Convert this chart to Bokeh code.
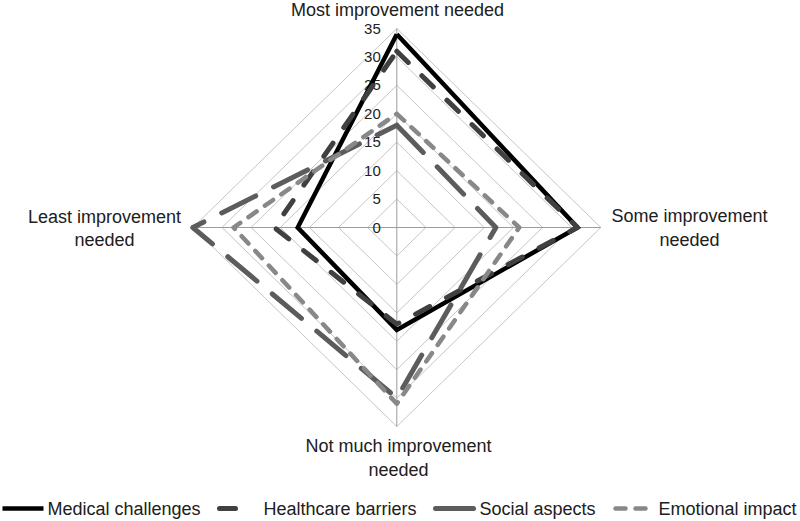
from bokeh.plotting import figure
from bokeh.models import Range1d
from bokeh.embed import file_html
from bokeh.resources import INLINE
from bokeh.core.properties import value
import math

# ---------------- data ----------------
categories = ["Most improvement needed", "Some improvement needed",
              "Not much improvement needed", "Least improvement needed"]
series_names = ["Medical challenges", "Healthcare barriers", "Social aspects", "Emotional impact"]
medical = [34, 31, 18, 17]
healthcare = [31, 31, 17, 21]
social = [18, 17, 30, 35]
emotional = [20, 21, 31, 28]
tick_values = [0, 5, 10, 15, 20, 25, 30, 35]
tick_labels = ["0", "5", "10", "15", "20", "25", "30", "35"]

# ---------------- layout (reference pixel space) ----------------
W, H = 800, 521
OX, OY = 0, 0                   # page offset of the figure
CX, CY = 396.3, 227.0           # centre of radar in picture pixels
KX, KY = 204.0 / 35, 199.0 / 35  # px per unit

def dxp(px):
    return (px - CX) / KX

def dyp(py):
    return (CY - py) / KY

angles = [90, 0, -90, 180]

p = figure(width=W, height=H, output_backend="svg", toolbar_location=None,
           x_range=Range1d(dxp(OX), dxp(OX + W)), y_range=Range1d(dyp(OY + H), dyp(OY)),
           min_border=0, outline_line_color=None, background_fill_color="white",
           border_fill_color="white")
p.axis.visible = False
p.grid.visible = False

def to_xy(vals):
    xs = [v * math.cos(math.radians(a)) for v, a in zip(vals, angles)]
    ys = [v * math.sin(math.radians(a)) for v, a in zip(vals, angles)]
    return xs + xs[:1], ys + ys[:1]

# grid diamonds
rmax = tick_values[-1]
for t in tick_values[1:]:
    xs, ys = to_xy([t] * 4)
    p.line(xs, ys, line_color="#c6c6c6", line_width=1)
# spokes
for a in angles:
    p.line([0, rmax * math.cos(math.radians(a))], [0, rmax * math.sin(math.radians(a))],
           line_color="#9c9c9c", line_width=1)

# tick labels
p.text(x=[dxp(CX - 16)] * len(tick_values), y=tick_values, text=tick_labels,
       text_align="right", text_baseline="middle", text_font=value("Liberation Sans"),
       text_font_size="15px", text_color="#222222")

# series
styles = [
    dict(line_color="#000000", line_width=4.5, line_join="miter"),
    dict(line_color="#404040", line_width=5, line_dash="16 19", line_cap="round", line_join="round"),
    dict(line_color="#5c5c5c", line_width=5, line_dash="38 20", line_cap="round", line_join="round"),
    dict(line_color="#888888", line_width=4.5, line_dash="10 10", line_cap="round", line_join="round"),
]
for vals, st in zip([medical, healthcare, social, emotional], styles):
    xs, ys = to_xy(vals)
    p.line(xs, ys, **st)

# category labels
disp = [categories[0]] + [c.rsplit(" ", 1)[0] + "\n" + c.rsplit(" ", 1)[1] for c in categories[1:]]
lab_px = [(397, 9), (689, 227.5), (398, 457.5), (104, 228)]
p.text(x=[dxp(a) for a, b in lab_px], y=[dyp(b) for a, b in lab_px], text=disp,
       text_align="center", text_baseline="middle", text_font=value("Liberation Sans"),
       text_font_size="18px", text_color="#202020", text_line_height=1.17)

# legend
leg_y = 508
leg_samples = [(2, 43), (219, 240), (435, 476), (615, 653)]
leg_text_x = [47, 263, 479, 658]
for (x0, x1), st in zip(leg_samples, styles):
    p.line([dxp(x0), dxp(x1)], [dyp(leg_y), dyp(leg_y)], **st)
p.text(x=[dxp(v) for v in leg_text_x], y=[dyp(leg_y)] * 4, text=series_names,
       text_align="left", text_baseline="middle", text_font=value("Liberation Sans"),
       text_font_size="18px", text_color="#202020")

open("out.html", "w").write(file_html(p, INLINE))
